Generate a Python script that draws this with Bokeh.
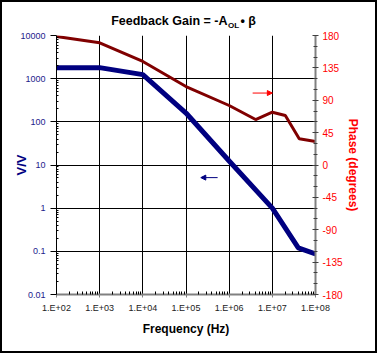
from bokeh.plotting import figure
from bokeh.layouts import column
from bokeh.models import (Range1d, LinearAxis, LinearScale, FixedTicker, Label, Arrow,
                          NormalHead)
from bokeh.embed import file_html
from bokeh.resources import INLINE

# ---------------- data ----------------
freq_gain = [1e2, 1e3, 1e4, 1e5, 1e6, 1e7, 4e7, 1e8]
gain_vv = [1800, 1800, 1240, 160, 12.4, 1.0, 0.12, 0.087]

freq_phase = [1e2, 1e3, 1e4, 1e5, 1e6, 4.1e6, 1e7, 2e7, 4.2e7, 1e8]
phase_deg = [178.6, 169.9, 143.9, 109.1, 82.7, 63.2, 73.4, 68.8, 36.4, 32.7]

freq_ticks = [1e2, 1e3, 1e4, 1e5, 1e6, 1e7, 1e8]
freq_labels = ["1.E+02", "1.E+03", "1.E+04", "1.E+05", "1.E+06", "1.E+07", "1.E+08"]
gain_ticks = [0.01, 0.1, 1, 10, 100, 1000, 10000]
gain_labels = ["0.01", "0.1", "1", "10", "100", "1000", "10000"]
phase_ticks = [-180, -135, -90, -45, 0, 45, 90, 135, 180]
phase_labels = ["-180", "-135", "-90", "-45", "0", "45", "90", "135", "180"]

# ---------------- layout constants ----------------
BORDER = 2
W = 377 - 2 * BORDER          # inner width
TH = 27                       # title strip height
MH = 353 - 2 * BORDER - TH    # main figure height
FL, FR, FT, FB = 54, 313, 6, 265   # frame edges inside the main canvas
FONT = "Liberation Sans"
NAVY = "#000080"
MAROON = "#800000"
RED = "#ff0000"

# ---------------- title strip (frame aligned with the main frame) ----------------
t = figure(width=W, height=TH, frame_width=FR - FL, frame_height=TH, title=None,
           x_range=Range1d(FL, FR), y_range=Range1d(TH, 0),
           output_backend="svg", toolbar_location=None,
           x_axis_location=None, y_axis_location=None,
           min_border=0, min_border_left=FL, min_border_right=W - FR,
           min_border_top=0, min_border_bottom=0)
t.outline_line_color = None
t.xgrid.visible = False
t.ygrid.visible = False
t.background_fill_color = "white"
t.border_fill_color = "white"

def tlabel(text, px, py, size, align):
    # px, py: page pixel position of the text's vertical middle (y downward)
    return Label(x=px - BORDER, y=py - BORDER, text=text,
                 text_align=align, text_baseline="middle",
                 text_font=FONT, text_font_size=size, text_font_style="bold",
                 text_color="#000000")

t.add_layout(tlabel("Feedback Gain = -A", 227, 20.5, "12.5px", "right"))
t.add_layout(tlabel("OL", 227.5, 24.5, "8px", "left"))
t.add_layout(tlabel("\u2022 \u03b2", 240, 20.5, "12.5px", "left"))

# ---------------- main chart ----------------
p = figure(width=W, height=MH, x_axis_type="log", y_axis_type="log",
           x_range=Range1d(1e2, 1e8), y_range=Range1d(0.01, 1e4),
           output_backend="svg", toolbar_location=None,
           min_border_left=FL, min_border_right=W - FR,
           min_border_top=FT, min_border_bottom=MH - FB)
p.outline_line_color = None
p.background_fill_color = "white"
p.border_fill_color = "white"
p.extra_y_ranges = {"phase": Range1d(-180, 180)}
p.extra_y_scales = {"phase": LinearScale()}

freq_minor = [m * 10.0 ** k for k in range(2, 8) for m in range(2, 10)]
gain_minor = [m * 10.0 ** k for k in range(-2, 4) for m in range(2, 10)]
phase_minor = list(range(-180, 181, 15))

# grids
p.xgrid.ticker = FixedTicker(ticks=freq_ticks)
p.ygrid.ticker = FixedTicker(ticks=gain_ticks)
for g in (p.xgrid, p.ygrid):
    g.grid_line_color = "#000000"
    g.grid_line_width = 1

# bottom axis
xa = p.xaxis[0]
xa.ticker = FixedTicker(ticks=freq_ticks, minor_ticks=freq_minor)
xa.major_label_overrides = dict(zip(freq_ticks, freq_labels))
xa.axis_line_color = "#808080"
xa.axis_line_width = 2
xa.major_tick_line_color = "#808080"
xa.minor_tick_line_color = "#000000"
xa.major_tick_out = 3
xa.major_tick_in = 0
xa.minor_tick_in = 3
xa.minor_tick_out = 0
xa.major_label_standoff = 5
xa.major_label_text_font = FONT
xa.major_label_text_font_size = "9px"
xa.major_label_text_color = "#222222"
xa.axis_label = "Frequency (Hz)"
xa.axis_label_text_font = FONT
xa.axis_label_text_font_size = "12px"
xa.axis_label_text_font_style = "bold"
xa.axis_label_text_color = "#000000"
xa.axis_label_standoff = 6

# left axis
ya = p.yaxis[0]
ya.ticker = FixedTicker(ticks=gain_ticks, minor_ticks=gain_minor)
ya.major_label_overrides = dict(zip(gain_ticks, gain_labels))
ya.axis_line_color = "#000000"
ya.axis_line_width = 1
ya.major_tick_line_color = "#000000"
ya.minor_tick_line_color = "#000000"
ya.major_tick_out = 6
ya.major_tick_in = 0
ya.minor_tick_in = 2
ya.minor_tick_out = 0
ya.major_label_standoff = 5
ya.major_label_text_font = FONT
ya.major_label_text_font_size = "9px"
ya.major_label_text_color = "#1c1c8c"
ya.axis_label = "V/V"
ya.axis_label_text_font = FONT
ya.axis_label_text_font_size = "13px"
ya.axis_label_text_font_style = "bold"
ya.axis_label_text_color = NAVY
ya.axis_label_standoff = -12

# right axis
ra = LinearAxis(y_range_name="phase")
ra.ticker = FixedTicker(ticks=phase_ticks, minor_ticks=phase_minor)
ra.major_label_overrides = dict(zip(phase_ticks, phase_labels))
ra.axis_line_color = "#808080"
ra.axis_line_width = 2
ra.major_tick_line_color = "#404040"
ra.minor_tick_line_color = "#404040"
ra.major_tick_out = 3
ra.major_tick_in = 3
ra.minor_tick_out = 2
ra.minor_tick_in = 2
ra.major_label_standoff = 4
ra.major_label_text_font = FONT
ra.major_label_text_font_size = "10px"
ra.major_label_text_color = RED
ra.axis_label = "Phase (degrees)"
ra.axis_label_text_font = FONT
ra.axis_label_text_font_size = "12px"
ra.axis_label_text_font_style = "bold"
ra.axis_label_text_color = RED
ra.axis_label_standoff = 0
p.add_layout(ra, "right")

# series
p.line(freq_phase, phase_deg, y_range_name="phase", line_color=MAROON, line_width=3)
p.line(freq_gain, gain_vv, line_color=NAVY, line_width=5)

# arrows
red_arrow = dict(x0=3.5e6, x1=1e7, y=100)
blue_arrow = dict(x0=5.4e5, x1=2.2e5, y=5.1)
p.add_layout(Arrow(end=NormalHead(size=5, fill_color=RED, line_color=RED),
                   x_start=red_arrow["x0"], y_start=red_arrow["y"],
                   x_end=red_arrow["x1"], y_end=red_arrow["y"],
                   y_range_name="phase", line_color=RED, line_width=1))
p.add_layout(Arrow(end=NormalHead(size=5, fill_color=NAVY, line_color=NAVY),
                   x_start=blue_arrow["x0"], y_start=blue_arrow["y"],
                   x_end=blue_arrow["x1"], y_end=blue_arrow["y"],
                   line_color=NAVY, line_width=1))

layout = column(t, p, spacing=0,
                styles={"border": "%dpx solid #000000" % BORDER,
                        "background-color": "white"})

open("out.html", "w").write(file_html(layout, INLINE))
